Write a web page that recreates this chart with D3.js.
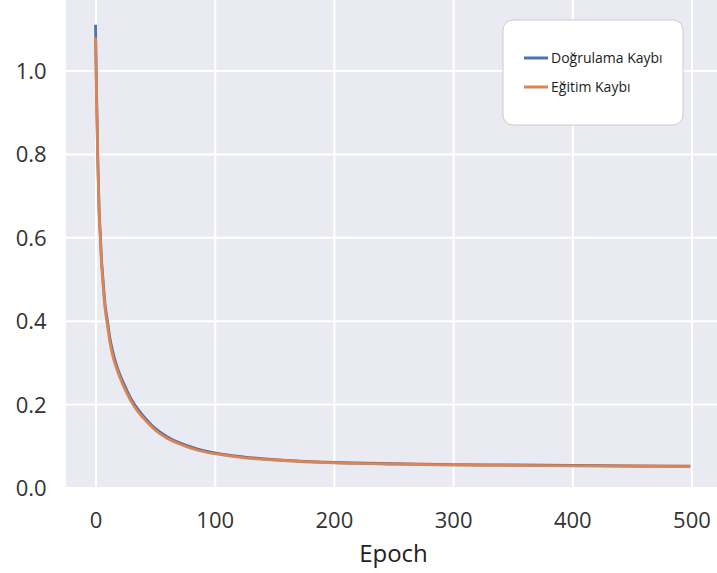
<!DOCTYPE html>
<html>
<head>
<meta charset="utf-8">
<script src="https://cdn.jsdelivr.net/npm/d3@7"></script>
<style>
  html, body { margin: 0; padding: 0; background: #ffffff; }
  svg { display: block; font-family: "Open Sans", "Noto Sans", sans-serif; }
</style>
</head>
<body>
<svg id="chart" width="717" height="573"></svg>
<script>
// ---- data ----
const epochs = [0, 1, 2, 3, 4, 5, 6, 8, 10, 12, 15, 18, 22, 26, 30, 35, 40, 50, 60, 70, 85, 100, 125, 150, 200, 250, 300, 350, 400, 450, 499];
const valLoss = [1.11, 0.93, 0.78, 0.67, 0.61, 0.55, 0.51, 0.44, 0.40, 0.36, 0.32, 0.29, 0.26, 0.235, 0.212, 0.19, 0.172, 0.142, 0.122, 0.108, 0.093, 0.083, 0.073, 0.067, 0.060, 0.057, 0.055, 0.054, 0.053, 0.052, 0.051];
const trainLoss = [1.08, 0.91, 0.765, 0.66, 0.60, 0.54, 0.50, 0.43, 0.39, 0.35, 0.31, 0.283, 0.253, 0.228, 0.206, 0.184, 0.167, 0.138, 0.118, 0.105, 0.090, 0.081, 0.071, 0.066, 0.059, 0.056, 0.054, 0.053, 0.052, 0.051, 0.050];
const xTicks = [0, 100, 200, 300, 400, 500];
const yTicks = [0.0, 0.2, 0.4, 0.6, 0.8, 1.0];
const seriesNames = ["Doğrulama Kaybı", "Eğitim Kaybı"];
const seriesColors = ["#4c72b0", "#dd8452"];
const xLabel = "Epoch";

// ---- layout ----
const svg = d3.select("#chart");
const W = 717, H = 573;
const plotLeft = 65.7, plotRight = 720.1, plotTop = 0, plotBottom = 488;

const x = d3.scaleLinear().domain([-25, 524]).range([plotLeft, plotRight]);
const y = d3.scaleLinear().domain([-0.0012, 1.1693]).range([plotBottom, plotTop]);

svg.append("rect").attr("x", 0).attr("y", 0).attr("width", W).attr("height", H).attr("fill", "#ffffff");

const clip = svg.append("defs").append("clipPath").attr("id", "plotclip");
clip.append("rect").attr("x", plotLeft).attr("y", plotTop).attr("width", plotRight - plotLeft).attr("height", plotBottom - plotTop);

const plot = svg.append("g").attr("clip-path", "url(#plotclip)");
plot.append("rect").attr("x", plotLeft).attr("y", plotTop).attr("width", plotRight - plotLeft).attr("height", plotBottom - plotTop).attr("fill", "#eaeaf2");

// grid via axes
const xGrid = d3.axisBottom(x).tickValues(xTicks).tickSize(-(plotBottom - plotTop)).tickFormat("");
const yGrid = d3.axisLeft(y).tickValues(yTicks).tickSize(-(plotRight - plotLeft)).tickFormat("");
plot.append("g").attr("transform", `translate(0,${plotBottom})`).call(xGrid)
  .call(g => g.select(".domain").remove())
  .call(g => g.selectAll("line").attr("stroke", "#ffffff").attr("stroke-width", 2));
plot.append("g").attr("transform", `translate(${plotLeft},0)`).call(yGrid)
  .call(g => g.select(".domain").remove())
  .call(g => g.selectAll("line").attr("stroke", "#ffffff").attr("stroke-width", 2));

// lines
const line = d3.line().x(d => x(d[0])).y(d => y(d[1])).curve(d3.curveMonotoneX);
const seriesData = [valLoss, trainLoss].map(vals => epochs.map((e, i) => [e, vals[i]]));
seriesData.forEach((data, i) => {
  plot.append("path").datum(data).attr("d", line)
    .attr("fill", "none").attr("stroke", seriesColors[i]).attr("stroke-width", 2.8)
    .attr("stroke-linejoin", "round").attr("stroke-linecap", "butt");
});

// tick labels via axes (no lines)
const xAxis = d3.axisBottom(x).tickValues(xTicks).tickSize(0).tickPadding(0).tickFormat(d3.format("d"));
svg.append("g").attr("transform", `translate(0,${plotBottom})`).call(xAxis)
  .call(g => g.select(".domain").remove())
  .call(g => g.selectAll("text").attr("y", 33).attr("dy", "0.32em")
    .attr("font-size", 22).attr("fill", "#333333").attr("font-family", "Open Sans"));

const yAxis = d3.axisLeft(y).tickValues(yTicks).tickSize(0).tickPadding(0).tickFormat(d3.format(".1f"));
svg.append("g").attr("transform", `translate(${plotLeft},0)`).call(yAxis)
  .call(g => g.select(".domain").remove())
  .call(g => g.selectAll("text").attr("x", -19).attr("dy", "0.36em")
    .attr("font-size", 22).attr("fill", "#333333").attr("font-family", "Open Sans"));

svg.append("text").attr("x", x(250) - 0).attr("y", 553).attr("dy", "0.36em")
  .attr("text-anchor", "middle").attr("font-size", 24).attr("fill", "#222222").text(xLabel);

// legend
const lg = svg.append("g");
lg.append("rect").attr("x", 503).attr("y", 20).attr("width", 180).attr("height", 105)
  .attr("rx", 10).attr("fill", "#ffffff").attr("stroke", "#cccccc").attr("stroke-width", 1);
seriesNames.forEach((name, i) => {
  const ly = 58 + i * 29;
  lg.append("line").attr("x1", 524).attr("x2", 548).attr("y1", ly).attr("y2", ly)
    .attr("stroke", seriesColors[i]).attr("stroke-width", 3);
  lg.append("text").attr("x", 551).attr("y", ly).attr("dy", "0.35em")
    .attr("font-size", 14).attr("fill", "#222222").text(name);
});
</script>
</body>
</html>
